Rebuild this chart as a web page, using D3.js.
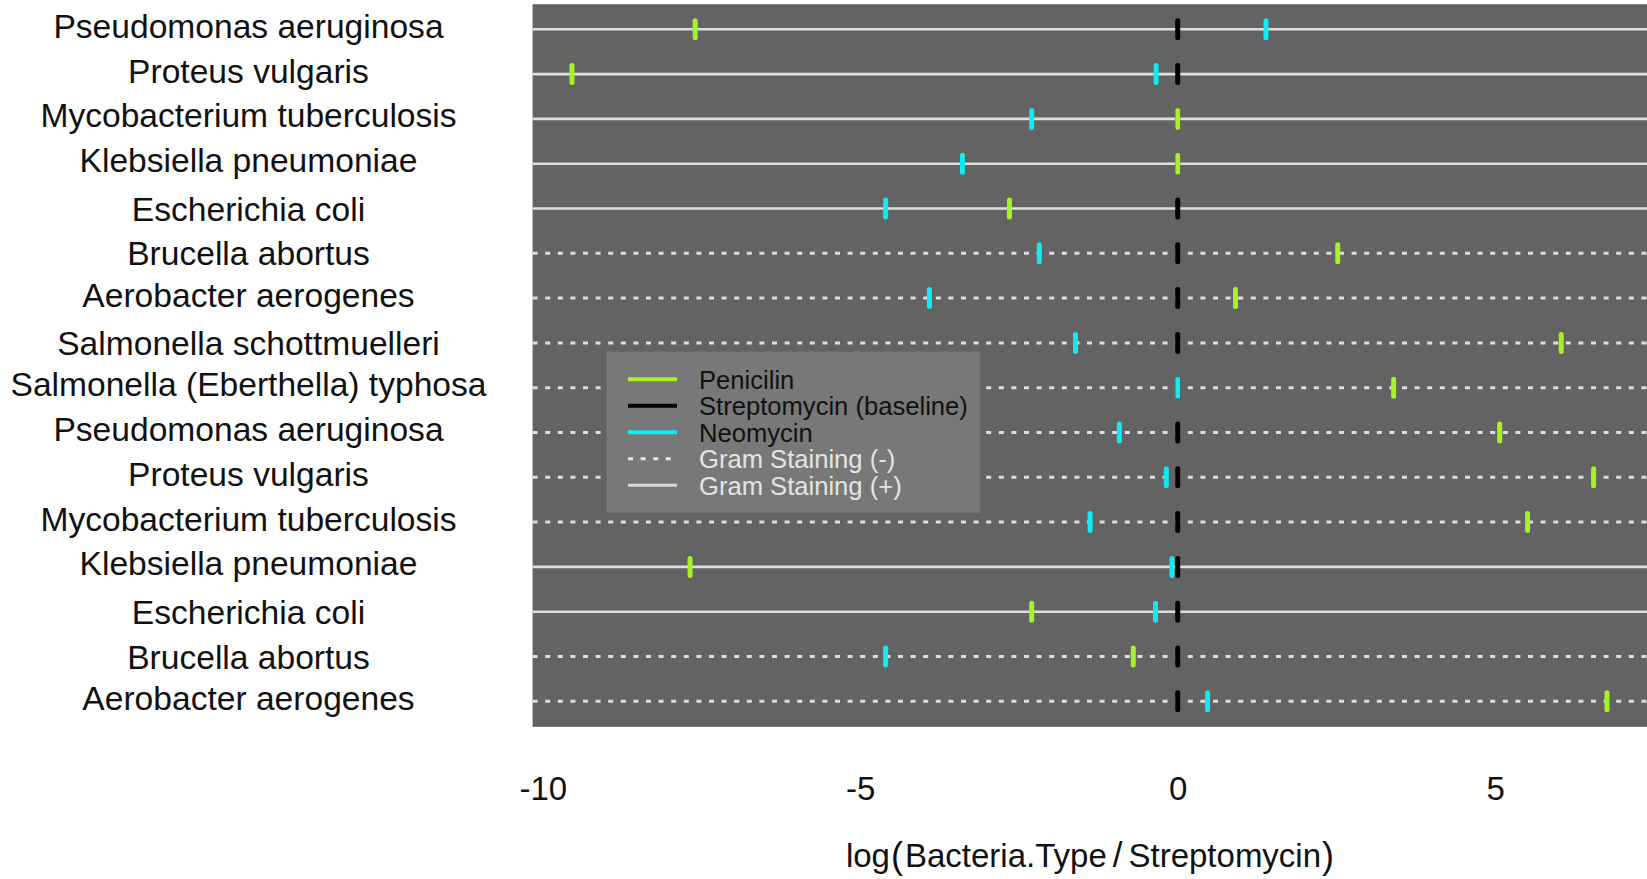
<!DOCTYPE html>
<html>
<head>
<meta charset="utf-8">
<script src="https://cdn.jsdelivr.net/npm/d3@7"></script>
<style>
  html, body { margin: 0; padding: 0; background: #ffffff; }
  svg { display: block; }
</style>
</head>
<body>
<script>
// Bacteria (top to bottom) and log-ratio of each antibiotic's MIC to Streptomycin
const bacteria = [
  "Pseudomonas aeruginosa", "Proteus vulgaris", "Mycobacterium tuberculosis",
  "Klebsiella pneumoniae", "Escherichia coli", "Brucella abortus",
  "Aerobacter aerogenes", "Salmonella schottmuelleri",
  "Salmonella (Eberthella) typhosa", "Pseudomonas aeruginosa",
  "Proteus vulgaris", "Mycobacterium tuberculosis", "Klebsiella pneumoniae",
  "Escherichia coli", "Brucella abortus", "Aerobacter aerogenes"
];
const penicillin   = [-7.60, -9.54, 0.00, 0.00, -2.65, 2.52, 0.91, 6.04, 3.40, 5.07, 6.55, 5.51, -7.68, -2.30, -0.70, 6.76];
const streptomycin = [0, 0, 0, 0, 0, 0, 0, 0, 0, 0, 0, 0, 0, 0, 0, 0];
const neomycin     = [1.39, -0.34, -2.30, -3.39, -4.60, -2.18, -3.91, -1.61, 0.00, -0.92, -0.18, -1.38, -0.09, -0.35, -4.60, 0.47];
const gramStain    = ["+", "+", "+", "+", "+", "-", "-", "-", "-", "-", "-", "-", "+", "+", "-", "-"];
const xTicks = [-10, -5, 0, 5];
const xTitle = ["log", "(", "Bacteria.Type", "/", "Streptomycin", ")"];
const legendLabels = ["Penicilin", "Streptomycin (baseline)", "Neomycin", "Gram Staining (-)", "Gram Staining (+)"];

const W = 1647, H = 879;
const FONT = "'Liberation Sans', Arial, Helvetica, sans-serif";
const colPen = "#a6f226", colStrep = "#000000", colNeo = "#12eaf2";
const panelFill = "#636363", legendFill = "#787878", gridCol = "#dedede";

const svg = d3.select("body").append("svg")
  .attr("width", W).attr("height", H)
  .style("font-family", FONT);

const rows = d3.range(bacteria.length);
const x = d3.scaleLinear().domain([-10.16, 7.4]).range([532.6, 1647.6]);
const y = d3.scaleLinear().domain([0, bacteria.length - 1]).range([29.3, 701.3]);

const panelTop = y(-0.56), panelBottom = y(bacteria.length - 1 + 0.57);
const [xl, xr] = x.range();

// plot panel
svg.append("rect")
  .attr("x", xl).attr("y", panelTop)
  .attr("width", xr - xl).attr("height", panelBottom - panelTop)
  .attr("fill", panelFill);

// one guide line per bacterium: solid for Gram positive, dashed for Gram negative
svg.append("g").selectAll("line").data(rows).join("line")
  .attr("x1", xl).attr("x2", xr)
  .attr("y1", i => y(i)).attr("y2", i => y(i))
  .attr("stroke", gridCol)
  .attr("stroke-width", i => gramStain[i] === "+" ? 2.6 : 3)
  .attr("stroke-dasharray", i => gramStain[i] === "+" ? null : "5,7.6");

// antibiotic ticks
const series = [
  { vals: streptomycin, col: colStrep },
  { vals: penicillin,   col: colPen },
  { vals: neomycin,     col: colNeo }
];
const half = 8.5;
series.forEach(s => {
  svg.append("g").selectAll("line").data(rows).join("line")
    .attr("x1", i => x(s.vals[i])).attr("x2", i => x(s.vals[i]))
    .attr("y1", i => y(i) - half).attr("y2", i => y(i) + half)
    .attr("stroke", s.col)
    .attr("stroke-width", 5)
    .attr("stroke-linecap", "round");
});

// row labels, vertically centred on their ink
const labelSize = 33.6;
const hasDescender = t => /[gjpqy()]/.test(t);
svg.append("g").selectAll("text").data(rows).join("text")
  .attr("x", 248.5)
  .attr("y", i => y(i) + labelSize * 0.358 - (hasDescender(bacteria[i]) ? labelSize * 0.105 : 0))
  .attr("text-anchor", "middle")
  .attr("font-size", labelSize)
  .attr("fill", "#111")
  .text(i => bacteria[i]);

// x axis: labels only
const axis = d3.axisBottom(x).tickValues(xTicks).tickSize(0).tickPadding(50)
  .tickFormat(d3.format("d"));
const gx = svg.append("g")
  .attr("transform", `translate(0,${panelBottom})`)
  .call(axis);
gx.select(".domain").remove();
gx.selectAll("text")
  .attr("font-size", 33)
  .attr("font-family", FONT)
  .attr("fill", "#111")
  .text(d => String(d).replace("\u2212", "-"));

// x axis title
const title = svg.append("text")
  .attr("x", 1090).attr("y", 867)
  .attr("text-anchor", "middle")
  .attr("font-size", 33)
  .attr("fill", "#111");
title.append("tspan").text(xTitle[0]);
title.append("tspan").attr("font-size", 36).attr("dy", 1).attr("dx", 1).text(xTitle[1]);
title.append("tspan").attr("dy", -1).attr("dx", 2).text(xTitle[2]);
title.append("tspan").attr("dx", 6).attr("font-size", 35).text(xTitle[3]);
title.append("tspan").attr("dx", 6).text(xTitle[4]);
title.append("tspan").attr("font-size", 36).attr("dy", 1).attr("dx", 1).text(xTitle[5]);

// legend
const lg = svg.append("g");
lg.append("rect")
  .attr("x", 606.7).attr("y", 351.7)
  .attr("width", 373.3).attr("height", 161)
  .attr("fill", legendFill);
const legendKeys = [
  { col: colPen, dash: null, w: 4, text: "#111" },
  { col: colStrep, dash: null, w: 4, text: "#111" },
  { col: colNeo, dash: null, w: 4, text: "#111" },
  { col: "#e6e6e6", dash: "5,7.6", w: 3, text: "#e4e4e4" },
  { col: "#d8d8d8", dash: null, w: 3, text: "#e4e4e4" }
];
const ly = i => 379.3 + i * 26.5;
lg.selectAll("line").data(legendKeys).join("line")
  .attr("x1", 628).attr("x2", 677)
  .attr("y1", (d, i) => ly(i)).attr("y2", (d, i) => ly(i))
  .attr("stroke", d => d.col)
  .attr("stroke-width", d => d.w)
  .attr("stroke-dasharray", d => d.dash);
lg.selectAll("text").data(legendKeys).join("text")
  .attr("x", 699)
  .attr("y", (d, i) => ly(i) + 9.2)
  .attr("font-size", 25.6)
  .attr("fill", d => d.text)
  .text((d, i) => legendLabels[i]);
</script>
</body>
</html>
